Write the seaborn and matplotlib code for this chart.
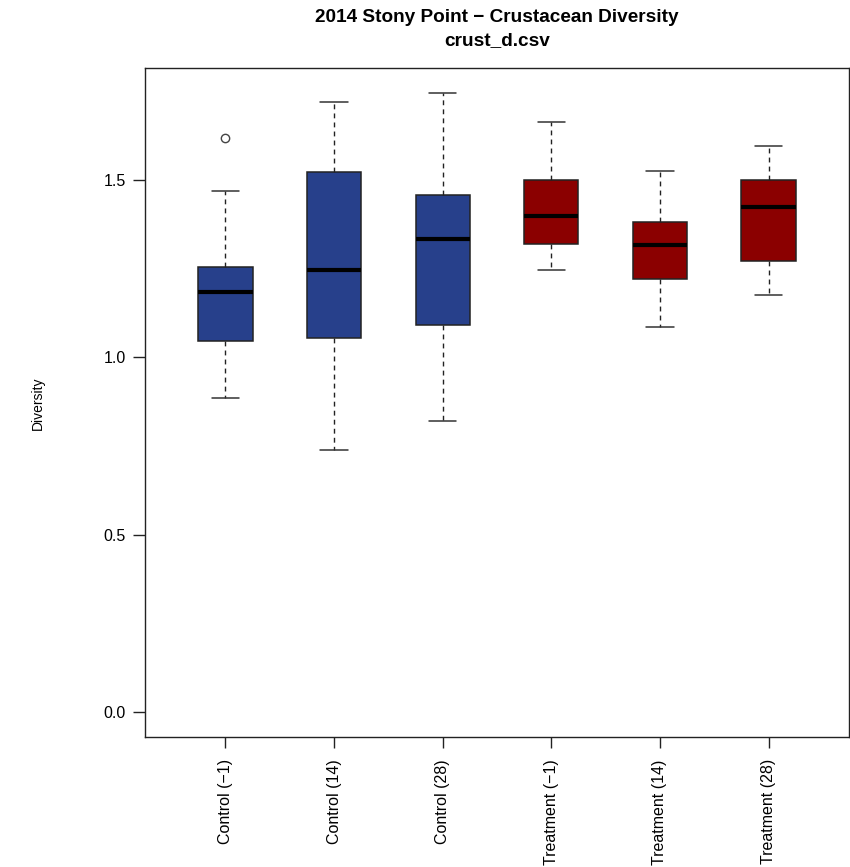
import matplotlib
matplotlib.use("Agg")
import matplotlib.pyplot as plt
import seaborn as sns

# ---- data ----
categories = ["Control (\u22121)", "Control (14)", "Control (28)",
              "Treatment (\u22121)", "Treatment (14)", "Treatment (28)"]
whisker_low = [0.884, 0.739, 0.820, 1.246, 1.084, 1.176]
q1 = [1.045, 1.055, 1.092, 1.319, 1.219, 1.272]
median = [1.184, 1.246, 1.334, 1.398, 1.315, 1.423]
q3 = [1.253, 1.522, 1.457, 1.500, 1.380, 1.500]
whisker_high = [1.469, 1.718, 1.745, 1.664, 1.526, 1.595]
outliers = [[1.619], [], [], [], [], []]
group_colors = ["#27408B", "#27408B", "#27408B", "#8B0000", "#8B0000", "#8B0000"]
y_ticks = [0.0, 0.5, 1.0, 1.5]
y_tick_labels = ["0.0", "0.5", "1.0", "1.5"]

sns.set_theme(style="white")
plt.rcParams["font.family"] = ["Liberation Sans", "DejaVu Sans"]
plt.rcParams["text.color"] = "black"
plt.rcParams["xtick.color"] = "#222222"
plt.rcParams["ytick.color"] = "#222222"
plt.rcParams["xtick.labelcolor"] = "black"
plt.rcParams["ytick.labelcolor"] = "black"

fig = plt.figure(figsize=(8.5, 8.67), dpi=100)
W, H = 850, 867
left, right, top, bottom = 145, 849, 68, 737
ax = fig.add_axes([left / W, 1 - bottom / H, (right - left) / W, (bottom - top) / H])

stats = []
for i, name in enumerate(categories):
    stats.append(dict(label=name, whislo=whisker_low[i], q1=q1[i], med=median[i],
                      q3=q3[i], whishi=whisker_high[i], fliers=outliers[i]))

positions = list(range(1, len(categories) + 1))
bp = ax.bxp(stats, positions=positions, widths=0.5, patch_artist=True,
            showfliers=True,
            boxprops=dict(edgecolor="#222222", linewidth=1.1),
            medianprops=dict(color="black", linewidth=3.0, solid_capstyle="butt"),
            whiskerprops=dict(color="#222222", linewidth=1.0, linestyle=(0, (3.5, 3))),
            capprops=dict(color="#333333", linewidth=1.1),
            capwidths=0.25,
            flierprops=dict(marker="o", markersize=6, markerfacecolor="none",
                            markeredgecolor="#444444", markeredgewidth=1.0))
for patch, c in zip(bp["boxes"], group_colors):
    patch.set_facecolor(c)

ax.set_xlim(0.26, 6.74)
ax.set_ylim(-0.0698, 1.8148)
ax.set_xticks(positions)
ax.set_xticklabels(categories, rotation=90, va="top", ha="center", fontsize=11.5, color="black")
ax.set_yticks(y_ticks)
ax.set_yticklabels(y_tick_labels, fontsize=11.5, color="black")
ax.tick_params(axis="y", direction="out", length=9, width=1, pad=5, color="#222222", left=True)
ax.tick_params(axis="x", direction="out", length=8, width=1, pad=8, color="#222222", bottom=True)

for sp in ax.spines.values():
    sp.set_visible(True)
    sp.set_color("#222222")
    sp.set_linewidth(1.0)

fig.text(38 / W, 1 - 403 / H, "Diversity", rotation=90, ha="center", va="center",
         fontsize=10, color="black")
fig.text(497 / W, 1 - 18 / H, "2014 Stony Point \u2212 Crustacean Diversity",
         ha="center", va="center", fontsize=13.7, fontweight="bold", color="black")
fig.text(497 / W, 1 - 41 / H, "crust_d.csv",
         ha="center", va="center", fontsize=13.7, fontweight="bold", color="black")

fig.savefig("out.png", dpi=100, facecolor="white")
